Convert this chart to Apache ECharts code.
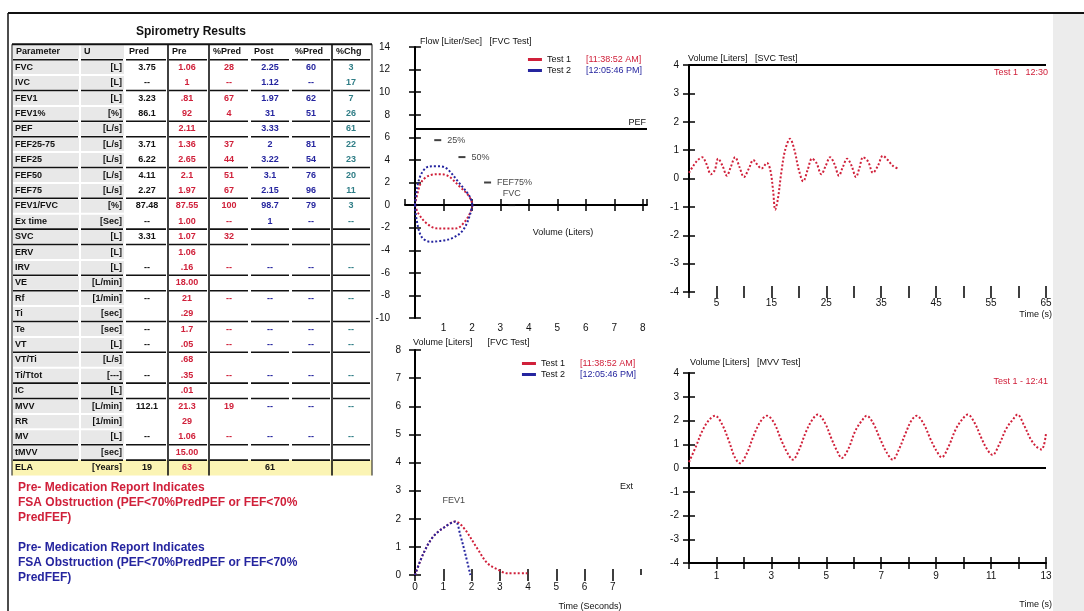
<!DOCTYPE html>
<html>
<head>
<meta charset="utf-8">
<script src="https://cdn.jsdelivr.net/npm/echarts@6/dist/echarts.min.js"></script>
<style>
  html, body { margin: 0; padding: 0; background: #fff; }
  #chart { width: 1084px; height: 611px; }
</style>
</head>
<body>
<div id="chart"></div>
<script>
// ---------------- Results table ----------------
const tableTitle = 'Spirometry Results';
const tableHeader = ['Parameter', 'U', 'Pred', 'Pre', '%Pred', 'Post', '%Pred', '%Chg'];
const paramNames  = ['FVC', 'IVC', 'FEV1', 'FEV1%', 'PEF', 'FEF25-75', 'FEF25', 'FEF50', 'FEF75', 'FEV1/FVC', 'Ex time',
                     'SVC', 'ERV', 'IRV', 'VE', 'Rf', 'Ti', 'Te', 'VT', 'VT/Ti', 'Ti/Ttot', 'IC', 'MVV', 'RR', 'MV', 'tMVV', 'ELA'];
const paramUnits  = ['[L]', '[L]', '[L]', '[%]', '[L/s]', '[L/s]', '[L/s]', '[L/s]', '[L/s]', '[%]', '[Sec]',
                     '[L]', '[L]', '[L]', '[L/min]', '[1/min]', '[sec]', '[sec]', '[L]', '[L/s]', '[---]', '[L]', '[L/min]', '[1/min]', '[L]', '[sec]', '[Years]'];
const predValues  = ['3.75', '--', '3.23', '86.1', '', '3.71', '6.22', '4.11', '2.27', '87.48', '--',
                     '3.31', '', '--', '', '--', '', '--', '--', '', '--', '', '112.1', '', '--', '', '19'];
const preValues   = ['1.06', '1', '.81', '92', '2.11', '1.36', '2.65', '2.1', '1.97', '87.55', '1.00',
                     '1.07', '1.06', '.16', '18.00', '21', '.29', '1.7', '.05', '.68', '.35', '.01', '21.3', '29', '1.06', '15.00', '63'];
const prePctPred  = ['28', '--', '67', '4', '', '37', '44', '51', '67', '100', '--',
                     '32', '', '--', '', '--', '', '--', '--', '', '--', '', '19', '', '--', '', ''];
const postValues  = ['2.25', '1.12', '1.97', '31', '3.33', '2', '3.22', '3.1', '2.15', '98.7', '1',
                     '', '', '--', '', '--', '', '--', '--', '', '--', '', '--', '', '--', '', '61'];
const postPctPred = ['60', '--', '62', '51', '', '81', '54', '76', '96', '79', '--',
                     '', '', '--', '', '--', '', '--', '--', '', '--', '', '--', '', '--', '', ''];
const pctChange   = ['3', '17', '7', '26', '61', '22', '23', '20', '11', '3', '--',
                     '', '', '--', '', '--', '', '--', '--', '', '--', '', '--', '', '--', '', ''];
// rows closed by a rule (0 = header row)
const ruledRows = [0, 2, 4, 5, 7, 9, 11, 12, 14, 15, 17, 19, 21, 22, 25, 26];

const notePre  = ['Pre- Medication Report Indicates', 'FSA Obstruction (PEF<70%PredPEF or FEF<70%', 'PredFEF)'];
const notePost = ['Pre- Medication Report Indicates', 'FSA Obstruction (PEF<70%PredPEF or FEF<70%', 'PredFEF)'];

// ---------------- Curves ----------------
const testNames  = ['Test 1', 'Test 2'];
const testStamps = ['[11:38:52 AM]', '[12:05:46 PM]'];

// flow-volume loop: [volume L, flow L/s]
const preExpiratory   = [[0, 0], [0.06, 0.73], [0.23, 2.06], [0.53, 2.65], [0.88, 2.74], [1.17, 2.57], [1.58, 1.62], [1.87, 0.88], [1.99, 0.3], [2.02, 0]];
const preInspiratory  = [[0, 0], [0.12, -0.74], [0.41, -1.62], [0.76, -2.06], [1.1, -2.08], [1.46, -2.06], [1.75, -1.47], [1.93, -0.74], [2.02, 0]];
const postExpiratory  = [[0, 0], [0.08, 1.6], [0.23, 2.8], [0.47, 3.4], [0.82, 3.45], [1.11, 3.25], [1.52, 2.06], [1.93, 0.73], [2.02, 0]];
const postInspiratory = [[0, 0], [0.06, -1.33], [0.23, -2.8], [0.53, -3.25], [0.94, -3.16], [1.29, -2.95], [1.64, -2.36], [1.87, -1.33], [2.02, 0]];
const predVolume = [0.8, 1.65, 2.55, 3.4];
const predFlow   = [5.75, 4.25, 2.0, 0];
const predLabels = ['25%', '50%', 'FEF75%', 'FVC'];
const pefPredicted = 6.8;
const flowVolXLabels = [1, 2, 3, 4, 5, 6, 7, 8];

// volume-time (FVC test): [time s, volume L]
const preVolumeTime  = [[0, 0], [0.3, 0.77], [0.65, 1.37], [1.07, 1.72], [1.43, 1.9], [1.73, 1.67], [2.2, 0.95], [2.56, 0.42], [2.92, 0.2], [3.27, 0.06], [3.98, 0.06]];
const postVolumeTime = [[0, 0], [0.3, 0.77], [0.65, 1.37], [1.07, 1.72], [1.43, 1.9], [1.6, 1.43], [1.79, 0.71], [1.96, 0]];
const fev1Mark = [0.8, 2.65];

// SVC test
const svcTime   = [0, 0.8, 1.6, 2.4, 3.2, 4.0, 4.7, 5.3, 6.1, 6.9, 7.6, 8.4, 9.2, 10.0, 10.9, 11.7, 12.4, 13.2, 14.2, 14.8,
                   15.3, 15.7, 16.2, 16.8, 17.5, 18.4, 19.2, 20.0, 20.8, 21.6, 22.4, 23.2, 24.1, 24.9, 25.7, 26.5, 27.3, 28.0,
                   28.8, 29.6, 30.4, 31.0, 31.7, 32.6, 33.5, 34.4, 35.3, 36.2, 37.1, 38.0];
const svcVolume = [0.2, 0.45, 0.65, 0.75, 0.5, 0.15, 0.3, 0.7, 0.45, 0.1, 0.4, 0.75, 0.4, 0.05, 0.35, 0.65, 0.5, 0.35, 0.55, 0.3,
                   -0.4, -1.1, -0.7, 0.2, 1.0, 1.4, 1.0, 0.3, -0.1, 0.3, 0.7, 0.55, 0.15, 0.45, 0.75, 0.5, 0.1, 0.4,
                   0.7, 0.45, 0.05, 0.35, 0.75, 0.6, 0.2, 0.45, 0.8, 0.65, 0.45, 0.35];
const svcXLabels = [5, 15, 25, 35, 45, 55, 65];

// MVV test
const mvvTime   = [0, 0.25, 0.5, 0.75, 0.95, 1.2, 1.45, 1.65, 1.85, 2.1, 2.35, 2.6, 2.84, 3.1, 3.35, 3.6, 3.78, 4.0, 4.25, 4.5,
                   4.69, 4.95, 5.2, 5.4, 5.56, 5.8, 6.05, 6.3, 6.47, 6.7, 6.95, 7.2, 7.42, 7.65, 7.9, 8.1, 8.29, 8.55, 8.8,
                   9.0, 9.2, 9.45, 9.7, 9.95, 10.15, 10.4, 10.65, 10.85, 11.05, 11.3, 11.55, 11.8, 11.96, 12.2, 12.45, 12.65, 12.84, 13.0];
const mvvVolume = [0.25, 0.9, 1.6, 2.05, 2.2, 1.85, 1.15, 0.5, 0.2, 0.6, 1.35, 1.95, 2.2, 1.9, 1.2, 0.6, 0.35, 0.75, 1.5, 2.05,
                   2.25, 1.9, 1.2, 0.7, 0.42, 0.8, 1.55, 2.0, 2.2, 1.9, 1.25, 0.65, 0.35, 0.8, 1.5, 2.0, 2.2, 1.85, 1.2,
                   0.75, 0.45, 0.9, 1.6, 2.05, 2.25, 1.9, 1.25, 0.8, 0.55, 1.0, 1.65, 2.05, 2.25, 1.8, 1.2, 0.9, 0.78, 1.45];
const mvvXLabels = [1, 3, 5, 7, 9, 11, 13];

// ---------------- Styling ----------------
const FONT = 'Liberation Sans, Arial, sans-serif';
const RED = '#d0203a';
const BLUE = '#25259f';
const TEAL = '#2f7d86';
const INK = '#111';

// ---------------- Table graphics ----------------
const graphics = [];
const colEdges = [12, 80, 125, 168, 209, 250, 291, 332, 372];
const colAnchor = [[15, 'left'], [122, 'right'], [147, 'center'], [187, 'center'], [229, 'center'], [270, 'center'], [311, 'center'], [351, 'center']];
const colColor = [INK, INK, INK, RED, RED, BLUE, BLUE, TEAL];
const ROW0 = 52, ROWH = 15.4;
const nRows = paramNames.length;
const rowY = i => ROW0 + ROWH * i;

function text(x, y, str, opt) {
  graphics.push({
    type: 'text', x, y, silent: true,
    style: Object.assign({ text: str, fill: INK, font: 'bold 10px ' + FONT, align: 'left', verticalAlign: 'middle' }, opt || {})
  });
}
function line(x1, y1, x2, y2, w, color) {
  graphics.push({ type: 'line', silent: true, shape: { x1, y1, x2, y2 }, style: { stroke: color || INK, lineWidth: w } });
}
function rect(x, y, w, h, fill) {
  graphics.push({ type: 'rect', silent: true, shape: { x, y, width: w, height: h }, style: { fill } });
}

// page frame and side strip
rect(1053, 14, 31, 597, '#ececec');
line(8, 13, 1084, 13, 2);
line(8, 13, 8, 611, 1.5);

text(191, 32, tableTitle, { font: 'bold 12px ' + FONT, align: 'center' });

const tableRows = paramNames.map((n, i) => [n, paramUnits[i], predValues[i], preValues[i], prePctPred[i], postValues[i], postPctPred[i], pctChange[i]]);
const tableTop = rowY(0) - ROWH / 2;
const tableBottom = rowY(nRows) + ROWH / 2;

// cell backgrounds
for (let i = 0; i <= nRows; i++) {
  const top = rowY(i) - ROWH / 2;
  if (i === nRows) {
    rect(colEdges[0], top, colEdges[8] - colEdges[0], ROWH, '#fbf4b4');
  } else {
    rect(colEdges[0] + 1, top + 1, colEdges[1] - colEdges[0] - 2, ROWH - 2, '#e8e8e8');
    rect(colEdges[1] + 1, top + 1, colEdges[2] - colEdges[1] - 2, ROWH - 2, '#e8e8e8');
  }
}
// header
tableHeader.forEach((h, c) => text(colEdges[c] + 4, rowY(0), h, { font: 'bold 9px ' + FONT }));
// body
tableRows.forEach((row, r) => {
  row.forEach((v, c) => {
    if (v === '') return;
    const [x, align] = colAnchor[c];
    const color = (r === nRows - 1 && c === 5) ? INK : colColor[c];
    text(x, rowY(r + 1), v, { fill: color, align, font: 'bold 9px ' + FONT });
  });
});
// rules
line(colEdges[0], tableTop, colEdges[8], tableTop, 2);
ruledRows.forEach(r => {
  const y = rowY(r) + ROWH / 2;
  for (let c = 0; c < 8; c++) line(colEdges[c] + 1, y, colEdges[c + 1] - 2, y, 1.6);
});
[12, 168, 209, 332, 372].forEach(x => line(x, tableTop, x, tableBottom, x === 12 || x === 372 ? 1 : 1.6));

// report notes
notePre.forEach((s, i) => text(18, 488 + 15 * i, s, { fill: RED, font: 'bold 12px ' + FONT }));
notePost.forEach((s, i) => text(18, 548 + 15 * i, s, { fill: BLUE, font: 'bold 12px ' + FONT }));

// chart titles and axis names
text(420, 42, 'Flow [Liter/Sec]   [FVC Test]', { font: '9px ' + FONT });
text(413, 343, 'Volume [Liters]      [FVC Test]', { font: '9px ' + FONT });
text(688, 59, 'Volume [Liters]   [SVC Test]', { font: '9px ' + FONT });
text(690, 363, 'Volume [Liters]   [MVV Test]', { font: '9px ' + FONT });
text(563, 233, 'Volume (Liters)', { font: '9px ' + FONT, align: 'center' });
text(590, 607, 'Time (Seconds)', { font: '9px ' + FONT, align: 'center' });
text(1052, 315, 'Time (s)', { font: '9px ' + FONT, align: 'right' });
text(1052, 605, 'Time (s)', { font: '9px ' + FONT, align: 'right' });
text(620, 487, 'Ext', { font: '9px ' + FONT });
text(1048, 73, testNames[0] + '   12:30', { fill: RED, font: '9px ' + FONT, align: 'right' });
text(1048, 382, testNames[0] + ' - 12:41', { fill: RED, font: '9px ' + FONT, align: 'right' });

// ---------------- Axes ----------------
const tickStyle = { color: '#000', width: 1.5 };
const axLabel = { fontFamily: FONT, fontSize: 10, color: INK };
function axisPair(dim, gridIndex, base, outLabel) {
  const pos = dim === 'x' ? 'bottom' : 'left';
  const outer = Object.assign({
    type: 'value', gridIndex, position: pos,
    splitLine: { show: false },
    axisLine: { show: true, onZero: false, lineStyle: { color: '#000', width: 2 } },
    axisTick: { show: true, inside: false, length: 6, lineStyle: tickStyle },
    axisLabel: Object.assign({}, axLabel, outLabel)
  }, base);
  const inner = Object.assign({
    type: 'value', gridIndex, position: pos,
    splitLine: { show: false },
    axisLine: { show: false, onZero: false },
    axisTick: { show: true, inside: true, length: 6, lineStyle: tickStyle },
    axisLabel: { show: false }
  }, base);
  if (base.onZero) {
    outer.axisLine.onZero = true;
    inner.axisLine.onZero = true;
  }
  if (base.hideLine) outer.axisLine.show = false;
  delete outer.onZero; delete inner.onZero; delete outer.hideLine; delete inner.hideLine;
  return [outer, inner];
}

const xAxis = [
  ...axisPair('x', 0, { min: -0.35, max: 8.15, splitNumber: 9, onZero: true },
    { margin: 5, showMinLabel: false, showMaxLabel: false, formatter: v => flowVolXLabels.includes(v) ? String(v) : '' }),
  ...axisPair('x', 1, { min: 0, max: 8, interval: 1, hideLine: true },
    { margin: 7, showMaxLabel: false }),
  ...axisPair('x', 2, { min: 0, max: 65, interval: 5, hideLine: true },
    { margin: 6, formatter: v => svcXLabels.includes(v) ? String(v) : '' }),
  ...axisPair('x', 3, { min: 0, max: 13, interval: 1 },
    { margin: 8, formatter: v => mvvXLabels.includes(v) ? String(v) : '' })
];
const yAxis = [
  ...axisPair('y', 0, { min: -10, max: 14, interval: 2, onZero: true }, { margin: 15 }),
  ...axisPair('y', 1, { min: 0, max: 8, interval: 1 }, { margin: 14 }),
  ...axisPair('y', 2, { min: -4, max: 4, interval: 1 }, { margin: 10 }),
  ...axisPair('y', 3, { min: -4, max: 4, interval: 1 }, { margin: 10 })
];

// ---------------- Series ----------------
function curve(name, color, xi, data, extra) {
  return Object.assign({
    name, type: 'line', xAxisIndex: xi, yAxisIndex: xi, data,
    color, smooth: 0.35, symbol: 'none', silent: true, z: 3,
    lineStyle: { color, width: 2, type: 'dotted' }, itemStyle: { color }
  }, extra || {});
}
const blackRule = { symbol: ['none', 'none'], silent: true, label: { show: false }, lineStyle: { color: '#000', width: 2, type: 'solid' } };

const series = [
  curve(testNames[0], RED, 0, preExpiratory),
  curve(testNames[0], RED, 0, preInspiratory),
  curve(testNames[1], BLUE, 0, postExpiratory),
  curve(testNames[1], BLUE, 0, postInspiratory),
  {
    name: 'Predicted', type: 'scatter', xAxisIndex: 0, yAxisIndex: 0, silent: true,
    data: predVolume.map((v, i) => ({ value: [v, predFlow[i]], label: { position: predLabels[i] === 'FVC' ? 'top' : 'right' } })),
    symbol: 'rect', symbolSize: [7, 2], itemStyle: { color: INK },
    label: { show: true, formatter: p => predLabels[p.dataIndex], fontFamily: FONT, fontSize: 9, color: INK, distance: 6 },
    markLine: Object.assign({}, blackRule, {
      label: { show: true, formatter: 'PEF', position: 'insideEndTop', fontFamily: FONT, fontSize: 9, color: INK, distance: 1 },
      data: [[{ coord: [0, pefPredicted] }, { coord: [8.15, pefPredicted] }]]
    })
  },
  curve(testNames[0], RED, 2, preVolumeTime),
  curve(testNames[1], BLUE, 2, postVolumeTime),
  {
    name: 'FEV1', type: 'scatter', xAxisIndex: 2, yAxisIndex: 2, silent: true, data: [fev1Mark], symbolSize: 0,
    label: { show: true, formatter: 'FEV1', position: 'right', fontFamily: FONT, fontSize: 9, color: INK }
  },
  curve('SVC', RED, 4, svcTime.map((t, i) => [t, svcVolume[i]]), {
    markLine: Object.assign({}, blackRule, { data: [{ yAxis: 4 }] })
  }),
  curve('MVV', RED, 6, mvvTime.map((t, i) => [t, mvvVolume[i]]), {
    markLine: Object.assign({}, blackRule, { data: [{ yAxis: 0 }] })
  })
];

const legendBase = {
  data: testNames, orient: 'vertical', itemGap: 2, itemWidth: 14, itemHeight: 3, icon: 'rect',
  selectedMode: false,
  formatter: name => {
    const i = testNames.indexOf(name);
    return name + '      {' + (i === 0 ? 'r' : 'b') + '|' + testStamps[i] + '}';
  },
  textStyle: { fontFamily: FONT, fontSize: 9, color: INK, rich: { r: { color: RED, fontSize: 9 }, b: { color: BLUE, fontSize: 9 } } }
};

const option = {
  animation: false,
  backgroundColor: '#fff',
  grid: [
    { left: 405, top: 47, width: 242, height: 271 },
    { left: 415, top: 350, width: 226, height: 225 },
    { left: 689, top: 65, width: 357, height: 227 },
    { left: 689, top: 373, width: 357, height: 190 }
  ],
  xAxis, yAxis, series,
  legend: [
    Object.assign({}, legendBase, { right: 437, top: 50 }),
    Object.assign({}, legendBase, { right: 443, top: 354 })
  ],
  graphic: { elements: graphics }
};

const chart = echarts.init(document.getElementById('chart'), null, { renderer: 'canvas' });
chart.setOption(option);
</script>
</body>
</html>
